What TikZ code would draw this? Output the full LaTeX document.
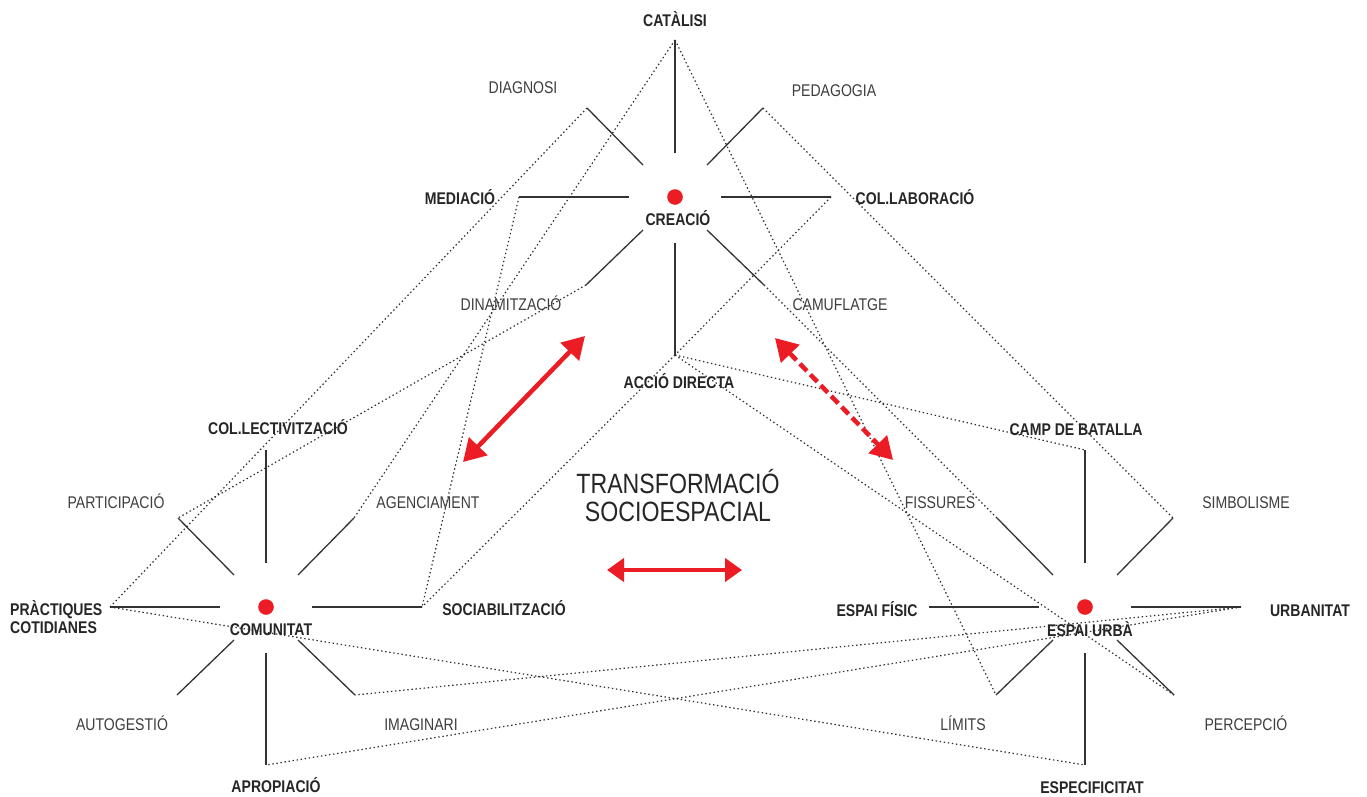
\documentclass[tikz,border=0pt]{standalone}
\usepackage{fontspec}
\setmainfont{Liberation Sans}[FakeStretch=0.83]
\usetikzlibrary{arrows.meta}
\definecolor{ink}{HTML}{262626}
\definecolor{soft}{HTML}{3E3E3E}
\definecolor{dotgray}{HTML}{2E2E2E}
\definecolor{spokegray}{HTML}{333333}
\definecolor{accent}{HTML}{EC1C24}

\tikzset{
  spoke/.style={draw=spokegray, line width=1.3bp},
  link/.style={draw=dotgray, line width=1.2bp, dash pattern=on 1.4bp off 2.7bp},
  strong/.style={font=\fontsize{17}{18}\selectfont\bfseries, text=ink, inner sep=0pt, anchor=base},
  faint/.style={font=\fontsize{17}{18}\selectfont, text=soft, inner sep=0pt, anchor=base},
  hubdot/.style={fill=accent, draw=none},
  bigarrow/.style={draw=accent, line width=4.5bp, {Triangle[length=22bp,width=25bp]}-{Triangle[length=22bp,width=25bp]}},
  dasharrow/.style={bigarrow, dash pattern=on 10bp off 5bp},
}

% a hub: red dot plus eight spokes; spoke ends are named <hub>-<dir>
\newcommand\drawhub[3]{%
  \coordinate (#1) at (#2,#3);
  \foreach \d/\ix/\iy/\ox/\oy in {n/0/-44/0/-157, s/0/46/0/158, e/46/0/156/0, w/-46/0/-156/0,
      ne/32/-32/88/-89, nw/-32/-32/-88/-89, se/32/33/89/88, sw/-32/33/-89/88}{
    \path (#1) ++(\ix,\iy) coordinate (#1-\d-in);
    \path (#1) ++(\ox,\oy) coordinate (#1-\d);
    \draw[spoke] (#1-\d-in) -- (#1-\d);
  }
  \fill[hubdot] (#1) circle (7.8);
}

\begin{document}
\begin{tikzpicture}[x=1bp, y=-1bp]
\useasboundingbox[fill=white] (0,0) rectangle (1367,796);

\drawhub{cre}{675}{197}
\drawhub{com}{266}{607}
\drawhub{esp}{1085}{607}

% dotted links between spoke ends
\draw[link] (cre-n) -- (com-ne);
\draw[link] (cre-n) -- (esp-sw);
\draw[link] (cre-nw) -- (com-w);
\draw[link] (cre-ne) -- (esp-ne);
\draw[link] (cre-w) -- (com-e);
\draw[link] (cre-e) -- (cre-s);
\draw[link] (cre-s) -- (com-e);
\draw[link] (cre-sw) -- (com-nw);
\draw[link] (cre-se) -- (esp-nw);
\draw[link] (cre-s) -- (esp-n);
\draw[link] (cre-s) -- (esp-se);
\draw[link] (com-w) -- (esp-s);
\draw[link] (esp-e) -- (com-se);
\draw[link] (esp-e) -- (com-s);

% hub titles
\node[strong] (creacio) at (678,225) {CREACIÓ};
\node[strong] (comunitat) at (271,635) {COMUNITAT};
\node[strong] (espaiurba) at (1090,636) {ESPAI URBÀ};

% creació labels
\node[strong] (catalisi) at (675,27) {CATÀLISI};
\node[faint] (diagnosi) at (523,93) {DIAGNOSI};
\node[faint] (pedagogia) at (834,96) {PEDAGOGIA};
\node[strong] (mediacio) at (460,204) {MEDIACIÓ};
\node[strong] (collaboracio) at (915,204) {COL.LABORACIÓ};
\node[faint] (dinamitzacio) at (511,310) {DINAMITZACIÓ};
\node[faint] (camuflatge) at (840,310) {CAMUFLATGE};
\node[strong] (acciodirecta) at (679,388) {ACCIÓ DIRECTA};

% comunitat labels
\node[strong] (collectivitzacio) at (278,434) {COL.LECTIVITZACIÓ};
\node[faint] (participacio) at (116,508) {PARTICIPACIÓ};
\node[faint] (agenciament) at (428,508) {AGENCIAMENT};
\node[strong, anchor=base west, align=left] (practiques) at (10,633) {PRÀCTIQUES\\[-0.5bp]COTIDIANES};
\node[strong] (sociabilitzacio) at (504,615) {SOCIABILITZACIÓ};
\node[faint] (autogestio) at (122,730) {AUTOGESTIÓ};
\node[faint] (imaginari) at (421,730) {IMAGINARI};
\node[strong] (apropiacio) at (276,792) {APROPIACIÓ};

% espai urbà labels
\node[strong] (campbatalla) at (1076,435) {CAMP DE BATALLA};
\node[faint] (fissures) at (940,508) {FISSURES};
\node[faint] (simbolisme) at (1246,508) {SIMBOLISME};
\node[strong] (espaifisic) at (877,616) {ESPAI FÍSIC};
\node[strong] (urbanitat) at (1310,616) {URBANITAT};
\node[faint] (limits) at (963,730) {LÍMITS};
\node[faint] (percepcio) at (1246,730) {PERCEPCIÓ};
\node[strong] (especificitat) at (1092,793) {ESPECIFICITAT};

% central title
\node[font=\fontsize{28}{28}\selectfont, text=ink, inner sep=0pt, align=center, anchor=base]
  (titol) at (678,521) {TRANSFORMACIÓ\\[-0.5bp]SOCIOESPACIAL};

% red arrows
\coordinate (a1) at (463,462);
\coordinate (a2) at (585,336);
\coordinate (b1) at (775,338);
\coordinate (b2) at (893,460);
\coordinate (c1) at (607,570);
\coordinate (c2) at (742,570);
\draw[bigarrow] (a1) -- (a2);
\draw[dasharrow] (b1) -- (b2);
\draw[draw=accent, line width=4.5bp, {Triangle[length=17bp,width=23bp]}-{Triangle[length=17bp,width=23bp]}] (c1) -- (c2);
\end{tikzpicture}
\end{document}
